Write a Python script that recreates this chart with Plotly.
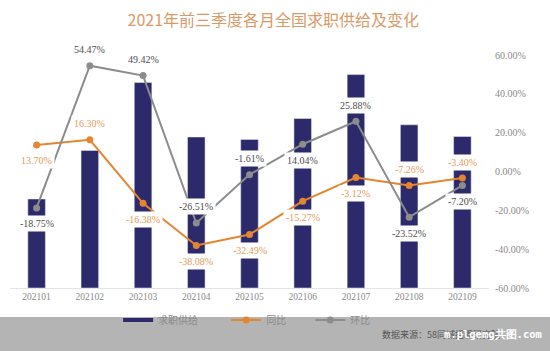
import plotly.graph_objects as go

months = ["202101", "202102", "202103", "202104", "202105", "202106", "202107", "202108", "202109"]
supply = [89, 137.5, 205.5, 151, 148.6, 169.5, 213.4, 163.2, 151.5]
yoy = [13.70, 16.30, -16.38, -38.08, -32.49, -15.27, -3.12, -7.26, -3.40]
mom = [-18.75, 54.47, 49.42, -26.51, -1.61, 14.04, 25.88, -23.52, -7.20]
yoy_pos = ["below", "above", "below", "below", "below", "below", "below", "above", "above"]
mom_pos = ["below", "above", "above", "above", "above", "below", "above", "below", "below"]
right_ticks = [-60, -40, -20, 0, 20, 40, 60]

NAVY = "#2c2a6b"
ORANGE = "#e5852f"
GRAY = "#8c8c8c"
LBL_FONT = "Liberation Serif"

xi = list(range(len(months)))

fig = go.Figure()
fig.add_trace(go.Bar(x=xi, y=supply, name="求职供给", marker_color=NAVY, yaxis="y", width=0.33,
                     showlegend=False))
# legend entry for the bars, drawn as a thick line like the reference
fig.add_trace(go.Scatter(x=[None], y=[None], mode="lines", name="求职供给",
                         line=dict(color=NAVY, width=4), yaxis="y", legend="legend"))
fig.add_trace(go.Scatter(x=xi, y=yoy, name="同比", mode="lines+markers", yaxis="y2",
                         line=dict(color=ORANGE, width=2), marker=dict(size=7, color=ORANGE),
                         legend="legend2"))
fig.add_trace(go.Scatter(x=xi, y=mom, name="环比", mode="lines+markers", yaxis="y2",
                         line=dict(color=GRAY, width=2), marker=dict(size=7, color=GRAY),
                         legend="legend3"))

annotations = []
for vals, poss, col in [(yoy, yoy_pos, "#e39a5a"), (mom, mom_pos, "#4d4d4d")]:
    for i, v, p in zip(xi, vals, poss):
        annotations.append(dict(x=i, y=v, xref="x", yref="y2", text=f"{v:.2f}%",
                                showarrow=False, yshift=16 if p == "above" else -16,
                                bgcolor="white", borderpad=2,
                                font=dict(family=LBL_FONT, size=10, color=col)))

annotations.append(dict(xref="paper", yref="paper", x=(380 - 10) / 478.6, y=-(334 - 288) / 233,
                        xanchor="left", yanchor="middle", showarrow=False,
                        text="数据来源：58同城招聘研究院",
                        font=dict(family="Noto Sans CJK SC", size=9, color="#555555")))
annotations.append(dict(xref="paper", yref="paper", x=(442 - 10) / 478.6, y=-(334 - 288) / 233,
                        xanchor="left", yanchor="middle", showarrow=False,
                        text="<b>m.plgemg共图.com</b>",
                        font=dict(family="DejaVu Sans Mono", size=10.5, color="white")))


def leg(px_left):
    return dict(orientation="h", x=(px_left - 10) / 478.6, xanchor="left",
                y=-(320 - 288) / 233, yanchor="middle", bgcolor="rgba(0,0,0,0)",
                font=dict(family="Noto Sans CJK SC", size=10, color="#8a8a8a"))


fig.update_layout(
    width=550, height=351,
    margin=dict(l=10, r=61, t=55, b=63),
    paper_bgcolor="white", plot_bgcolor="white",
    title=dict(text="2021年前三季度各月全国求职供给及变化", x=0.497, xanchor="center",
               y=1 - 20 / 351, yanchor="middle",
               font=dict(family="Noto Sans CJK SC", size=16, color="#d99a68")),
    xaxis=dict(range=[-0.5, len(months) - 0.5], tickvals=xi, ticktext=months,
               showgrid=False, zeroline=False, showline=True, linecolor="#e3e3e3", ticks="",
               tickfont=dict(family=LBL_FONT, size=9.5, color="#8a8a8a")),
    yaxis=dict(range=[0, 233], visible=False, showgrid=False),
    yaxis2=dict(overlaying="y", side="right", range=[-60, 60], tickvals=right_ticks,
                ticktext=[f"{t:.2f}%" for t in right_ticks], showgrid=False, zeroline=False,
                ticklabelstandoff=5,
                tickfont=dict(family=LBL_FONT, size=10, color="#8a8a8a")),
    legend=leg(118),
    legend2=leg(226),
    legend3=leg(310),
    annotations=annotations,
    shapes=[dict(type="rect", xref="paper", yref="paper", x0=-0.1, x1=1.2,
                 y0=-(317 - 288) / 233, y1=-0.4, fillcolor="#b4b4b4", line_width=0, layer="below")],
    showlegend=True,
)

fig.write_html("out.html")
